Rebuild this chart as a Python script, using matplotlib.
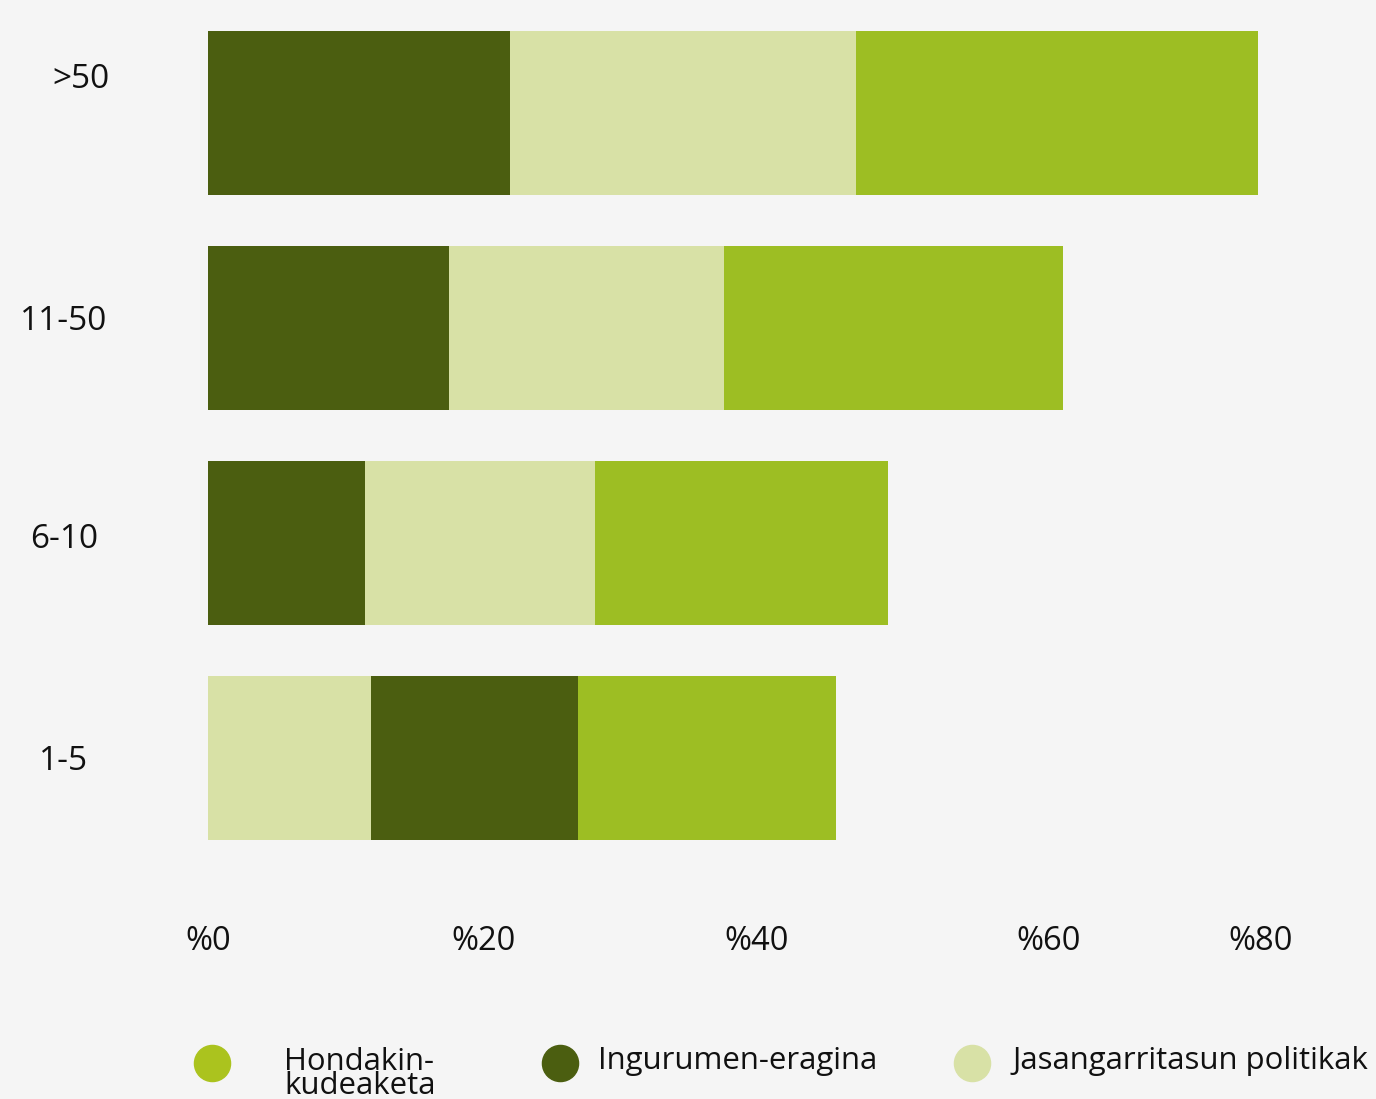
import matplotlib
matplotlib.use("Agg")
import matplotlib.pyplot as plt
from matplotlib.lines import Line2D

# ---- data ----
categories = [">50", "11-50", "6-10", "1-5"]
hondakin = [30.5, 25.7, 22.2, 19.6]          # Hondakin-kudeaketa (%)
ingurumen = [22.9, 18.3, 11.9, 15.7]         # Ingurumen-eragina (%)
jasangarritasun = [26.3, 20.9, 17.5, 12.4]   # Jasangarritasun politikak (%)
# stacking order per row (left to right)
stack_order = [
    ["ingurumen", "jasangarritasun", "hondakin"],
    ["ingurumen", "jasangarritasun", "hondakin"],
    ["ingurumen", "jasangarritasun", "hondakin"],
    ["jasangarritasun", "ingurumen", "hondakin"],
]
x_tick_labels = ["%0", "%20", "%40", "%60", "%80"]
legend_labels = ["Hondakin-\nkudeaketa", "Ingurumen-eragina", "Jasangarritasun politikak"]

# ---- style ----
plt.rcParams['font.family'] = ['Open Sans', 'DejaVu Sans']
BG = "#f5f5f5"
colors = {"ingurumen": "#4b5e10", "jasangarritasun": "#d8e1a6", "hondakin": "#9dbe23"}
legend_colors = ["#abc31e", "#4b5e10", "#d8e1a6"]
series = {"hondakin": hondakin, "ingurumen": ingurumen, "jasangarritasun": jasangarritasun}

W, H = 1376, 1099
fig = plt.figure(figsize=(W / 100, H / 100), dpi=100, facecolor=BG)

# axes: x 208..1262 px maps 0..80 ; y rows at 113,328,543,758 px
px_per_unit = 215.0
y_top = 3 + 113 / px_per_unit
y_bot = -(900 - 758) / px_per_unit
ax = fig.add_axes([208 / W, 1 - 900 / H, 1054 / W, 900 / H])
ax.set_facecolor(BG)
ax.set_xlim(0, 80)
ax.set_ylim(y_bot, y_top)

n = len(categories)
for i, cat in enumerate(categories):
    y = n - 1 - i
    left = 0.0
    for key in stack_order[i]:
        v = series[key][i]
        ax.barh(y, v, left=left, height=0.76, color=colors[key], edgecolor="none")
        left += v

# x tick labels (positions as in reference layout)
xtick_pos = [0.05, 20.93, 41.65, 63.8, 79.9]
ax.set_xticks(xtick_pos)
ax.set_xticklabels(x_tick_labels, fontsize=23.5, color="#111111")
ax.tick_params(axis="x", length=0, pad=18)

# y labels
ax.set_yticks([])
ylabel_y = [3 + 33 / px_per_unit, 2 + 7 / px_per_unit, 1 + 3 / px_per_unit, -3 / px_per_unit]
ylabel_x = [(81 - 208) / 1054, (64 - 208) / 1054, (64 - 208) / 1054, (64 - 208) / 1054]
for lab, yy, xx in zip(categories, ylabel_y, ylabel_x):
    ax.text(xx, yy, lab, transform=ax.get_yaxis_transform(), ha="center", va="center",
            fontsize=24, color="#111111")

for s in ax.spines.values():
    s.set_visible(False)

# legend (manual, figure pixel coords)
lax = fig.add_axes([0, 0, 1, 1], facecolor="none")
lax.set_xlim(0, W)
lax.set_ylim(H, 0)
lax.axis("off")
mx = [212, 560, 972]
tx = [284, 598, 1012]
for c, m, t, lab in zip(legend_colors, mx, tx, legend_labels):
    lax.add_line(Line2D([m], [1063], marker="o", markersize=26, color=c, linestyle="none"))
    if "\n" in lab:
        lax.text(t, 1074, lab, ha="left", va="center", fontsize=22.4, color="#111111", linespacing=0.72)
    else:
        lax.text(t, 1061, lab, ha="left", va="center", fontsize=22.4, color="#111111")

fig.savefig("out.png", dpi=100, facecolor=BG)
